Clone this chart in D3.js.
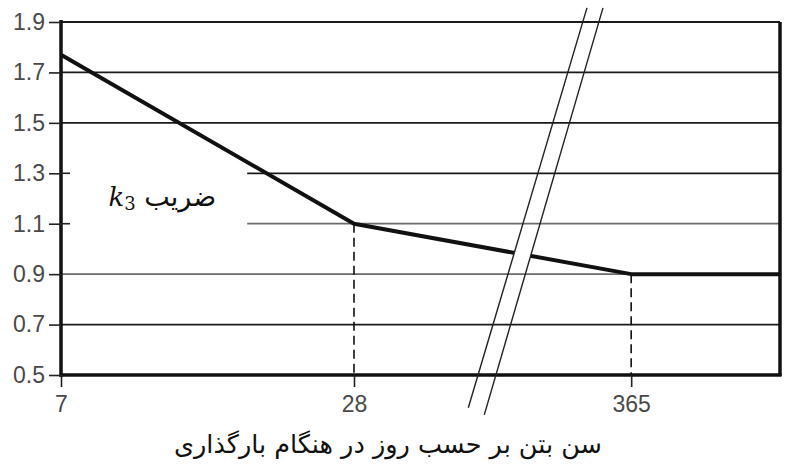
<!DOCTYPE html>
<html><head><meta charset="utf-8">
<script src="https://cdn.jsdelivr.net/npm/d3@7"></script>
<style>
html,body{margin:0;padding:0;background:#fff;}
svg{display:block;}
</style></head>
<body>
<svg id="chart" width="791" height="469"></svg>
<script>
// ---- data ----
const categories = ["7", "28", "365"];
const k3Values = [1.77, 1.10, 0.90];
const k3End = 0.90;               // value held to the right edge
const yTicks = [0.5, 0.7, 0.9, 1.1, 1.3, 1.5, 1.7, 1.9];
const yLabel = "ضریب";
const xTitle = "سن بتن بر حسب روز در هنگام بارگذاری";

// ---- layout ----
const W = 791, H = 469;
const pLeft = 61, pRight = 780, pTop = 22, pBottom = 375;
const xFrac = [0, 0.4075, 0.793, 1];          // relative position of 7, 28, 365, edge
const gridShortStart = 0.259;                  // gridlines 1.1 & 1.3 start here (label space)
const shortGrid = [1.1, 1.3];
const greyGrid = [0.9, 1.1];

const svg = d3.select("#chart");
const xKeys = categories.concat(["edge"]);
const x = d3.scaleOrdinal().domain(xKeys).range(xFrac.map(f => pLeft + f * (pRight - pLeft)));
const y = d3.scaleLinear().domain([0.5, 1.9]).range([pBottom, pTop]);
const xf = d3.scaleLinear().domain([0, 1]).range([pLeft, pRight]);

// gridlines
svg.append("g").selectAll("line").data(yTicks.filter(v => v > 0.5)).join("line")
  .attr("x1", d => shortGrid.includes(d) ? xf(gridShortStart) : pLeft)
  .attr("x2", pRight)
  .attr("y1", d => y(d)).attr("y2", d => y(d))
  .attr("stroke", d => greyGrid.includes(d) ? "#6a6a6a" : "#1a1a1a")
  .attr("stroke-width", d => d === 1.9 ? 2 : 1.7);

// dashed drop lines
const pts = categories.map((c, i) => ({c, v: k3Values[i]}));
svg.append("g").selectAll("line").data(pts.slice(1)).join("line")
  .attr("x1", d => x(d.c)).attr("x2", d => x(d.c))
  .attr("y1", d => y(d.v)).attr("y2", pBottom)
  .attr("stroke", "#111").attr("stroke-width", 1.6)
  .attr("stroke-dasharray", "9,5");

// break geometry (in data/fraction space)
const breakLines = [
  {f1: 0.7315, v1: 1.956, f2: 0.5665, v2: 0.370},
  {f1: 0.7538, v1: 1.956, f2: 0.5887, v2: 0.342}
];
const bl = breakLines.map(b => [[xf(b.f1), y(b.v1)], [xf(b.f2), y(b.v2)]]);

// clip path that removes the band between the break lines
const defs = svg.append("defs");
const band = `M${bl[0][0]}L${bl[1][0]}L${bl[1][1]}L${bl[0][1]}Z`;
defs.append("clipPath").attr("id", "brk").append("path")
  .attr("clip-rule", "evenodd")
  .attr("d", `M0,0H${W}V${H}H0Z ` + band);

// data line
const lineData = pts.map(p => [x(p.c), y(p.v)]).concat([[x("edge"), y(k3End)]]);
svg.append("path").attr("d", d3.line()(lineData))
  .attr("fill", "none").attr("stroke", "#111").attr("stroke-width", 4)
  .attr("stroke-linejoin", "round")
  .attr("clip-path", "url(#brk)");

// frame axes
svg.append("line").attr("x1", pLeft).attr("x2", pLeft).attr("y1", pTop - 2).attr("y2", pBottom + 2)
  .attr("stroke", "#111").attr("stroke-width", 3.5);
svg.append("line").attr("x1", pRight).attr("x2", pRight).attr("y1", pTop).attr("y2", pBottom + 1)
  .attr("stroke", "#111").attr("stroke-width", 3.5);
svg.append("line").attr("x1", pLeft).attr("x2", pRight + 1.5).attr("y1", pBottom).attr("y2", pBottom)
  .attr("stroke", "#111").attr("stroke-width", 3.5);

// y axis ticks & labels
const yAxis = d3.axisLeft(y).tickValues(yTicks).tickSize(12).tickFormat(d3.format(".1f"));
const gy = svg.append("g").attr("transform", `translate(${pLeft},0)`).call(yAxis);
gy.select(".domain").remove();
gy.selectAll(".tick line").attr("stroke", "#222").attr("stroke-width", 1.6);
gy.selectAll(".tick text").attr("x", -16)
  .style("font-family", "'Liberation Sans', Arial, sans-serif").style("font-size", "23px")
  .attr("fill", "#4a4a4a");
// small inner ticks where gridlines are short
svg.append("g").selectAll("line").data(shortGrid).join("line")
  .attr("x1", pLeft).attr("x2", pLeft + 9).attr("y1", d => y(d)).attr("y2", d => y(d))
  .attr("stroke", "#222").attr("stroke-width", 1.6);

// x axis ticks & labels
const xAxis = d3.axisBottom(x).tickValues(categories).tickSize(12);
const gx = svg.append("g").attr("transform", `translate(0,${pBottom})`).call(xAxis);
gx.select(".domain").remove();
gx.selectAll(".tick line").attr("stroke", "#222").attr("stroke-width", 1.6);
gx.selectAll(".tick text").attr("y", 21)
  .style("font-family", "'Liberation Sans', Arial, sans-serif").style("font-size", "23px")
  .attr("fill", "#4a4a4a");

// break lines
svg.append("g").selectAll("line").data(bl).join("line")
  .attr("x1", d => d[0][0]).attr("y1", d => d[0][1])
  .attr("x2", d => d[1][0]).attr("y2", d => d[1][1])
  .attr("stroke", "#222").attr("stroke-width", 1.4);

// inner label "ضریب k3"
const lab = svg.append("text").attr("x", xf(0.066)).attr("y", y(1.17))
  .attr("fill", "#111");
lab.append("tspan").text("k").style("font-family", "'DejaVu Serif', 'Liberation Serif', serif")
  .style("font-style", "italic").style("font-size", "26px");
lab.append("tspan").text("3").attr("dy", 4).style("font-family", "'DejaVu Serif', 'Liberation Serif', serif")
  .style("font-size", "18px");
lab.append("tspan").text(" " + yLabel).attr("dy", -4)
  .style("font-family", "'DejaVu Sans', sans-serif").style("font-size", "27px");

// x title
svg.append("text").attr("x", 388).attr("y", 453).attr("text-anchor", "middle")
  .attr("direction", "rtl")
  .style("font-family", "'DejaVu Sans', sans-serif").style("font-size", "25.5px")
  .attr("fill", "#111").text(xTitle);
</script>
</body></html>
